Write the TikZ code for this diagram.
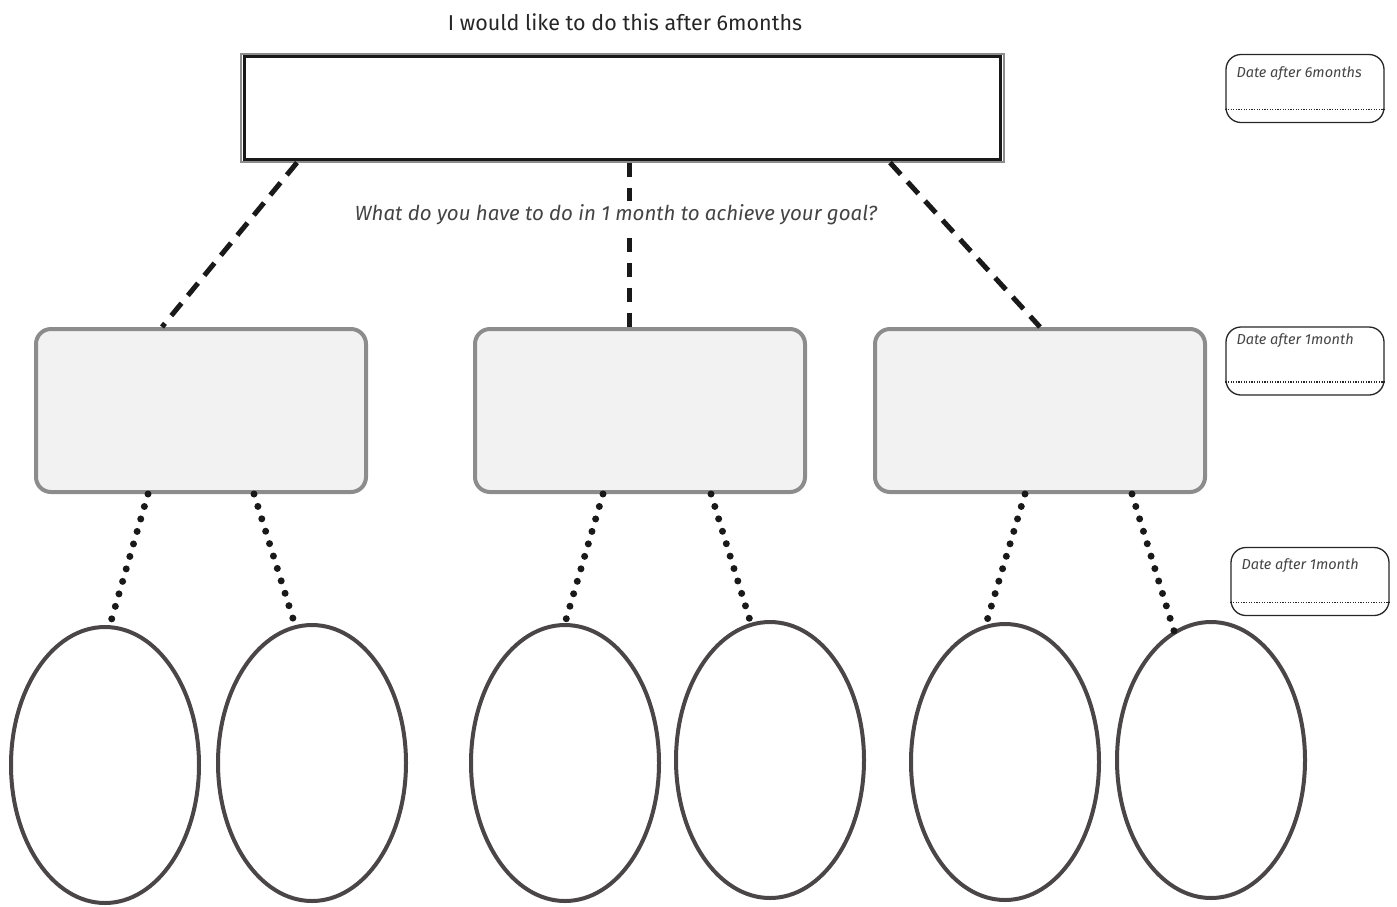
\documentclass[tikz,border=0pt]{standalone}
\usepackage{fontspec}
\setmainfont{Fira Sans}
\usetikzlibrary{shapes.geometric,calc}
\definecolor{boxgray}{HTML}{8C8C8C}
\definecolor{boxfill}{HTML}{F2F2F2}
\definecolor{ellgray}{HTML}{4A4546}
\definecolor{txtgray}{HTML}{444444}
\begin{document}
\begin{tikzpicture}[x=1pt,y=-1pt,
  midbox/.style={draw=boxgray,fill=boxfill,line width=4pt,rounded corners=15pt,minimum width=330pt,minimum height=163pt,inner sep=0pt},
  leaf/.style={draw=ellgray,line width=4pt,ellipse,minimum width=188pt,minimum height=276pt,inner sep=0pt},
  datebox/.style={draw=black!85,line width=1.3pt,rounded corners=15pt,minimum width=158pt,minimum height=68pt,inner sep=0pt},
  datelabel/.style={font=\fontsize{14.5}{16}\selectfont\itshape,text=txtgray,anchor=west,inner sep=0pt},
  bigdash/.style={line width=5pt,dash pattern=on 16pt off 10pt,black!90},
  middash/.style={line width=5pt,dash pattern=on 14pt off 11pt,black!90},
  dots/.style={line width=7pt,line cap=round,dash pattern=on 0pt off 13pt,black!90},
  fineline/.style={line width=1.2pt,dash pattern=on 1.2pt off 1.4pt,black!85}]
\useasboundingbox (0,0) rectangle (1397,906);

% title
\node[font=\fontsize{21.5}{25}\selectfont,text=black!85] (title) at (625,22) {I would like to do this after 6months};

% top box (double border)
\node[draw=black!45,line width=1.2pt,minimum width=763pt,minimum height=108pt,inner sep=0pt] (t) at (622.5,108) {};
\draw[line width=3pt,black!90] ([shift={(4,3.5)}]t.north west) rectangle ([shift={(-4,-3.5)}]t.south east);

% middle boxes
\node[midbox] (b1) at (201,410.5) {};
\node[midbox] (b2) at (640,410.5) {};
\node[midbox] (b3) at (1040,410.5) {};

% dashed connectors
\draw[bigdash] ([xshift=-325.5pt]t.south) -- ([xshift=-39pt]b1.north);
\draw[middash] ([xshift=6.5pt]t.south) -- ([xshift=-11pt]b2.north);
\draw[bigdash] ([xshift=267.5pt]t.south) -- (b3.north);

% question
\node[fill=white,inner sep=4pt,font=\fontsize{20.5}{24}\selectfont\itshape,text=txtgray] (q) at (616,215) {What do you have to do in 1 month to achieve your goal?};

% ellipses
\node[leaf] (e1) at (105,765) {};
\node[leaf] (e2) at (312,763) {};
\node[leaf] (e3) at (565,763) {};
\node[leaf] (e4) at (770,760) {};
\node[leaf] (e5) at (1005,762) {};
\node[leaf] (e6) at (1211,760) {};

% dotted connectors
\draw[dots] ([xshift=-53pt]b1.south) -- (e1.88);
\draw[dots] ([xshift=53pt]b1.south) -- (e2.97);
\draw[dots] ([xshift=-37pt]b2.south) -- (e3.90);
\draw[dots] ([xshift=71pt]b2.south) -- (e4.98);
\draw[dots] ([xshift=-15pt]b3.south) -- (e5.98);
\draw[dots] ([xshift=92pt]b3.south) -- (e6.106);

% date boxes
\node[datebox] (d1) at (1305,88.5) {};
\node[datelabel] (d1l) at ([shift={(11,-15)}]d1.west) {Date after 6months};
\draw[fineline] ([yshift=-21pt]d1.west) -- ([yshift=-21pt]d1.east);

\node[datebox] (d2) at (1305,361) {};
\node[datelabel] (d2l) at ([shift={(11,-20)}]d2.west) {Date after 1month};
\draw[fineline] ([yshift=-21pt]d2.west) -- ([yshift=-21pt]d2.east);

\node[datebox] (d3) at (1310,581.5) {};
\node[datelabel] (d3l) at ([shift={(11,-16)}]d3.west) {Date after 1month};
\draw[fineline] ([yshift=-21pt]d3.west) -- ([yshift=-21pt]d3.east);
\end{tikzpicture}
\end{document}
